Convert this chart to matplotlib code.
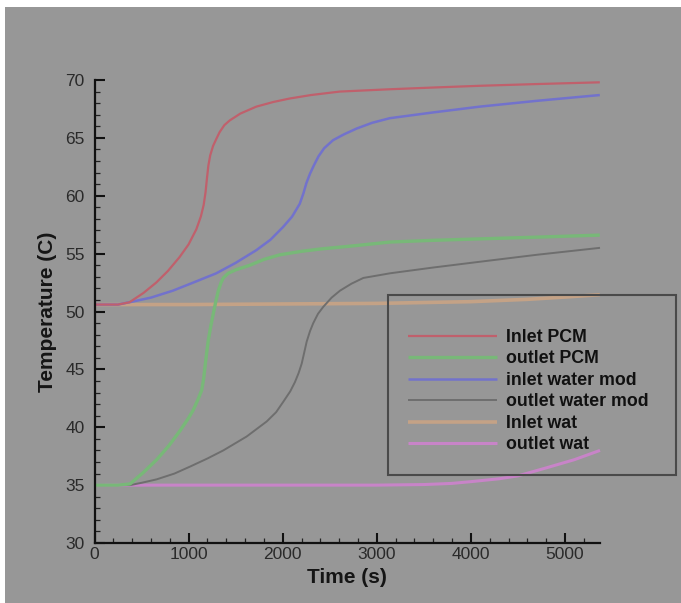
import matplotlib
matplotlib.use("Agg")
import matplotlib.pyplot as plt
from matplotlib.patches import Rectangle
from matplotlib.ticker import MultipleLocator

plt.rcParams['font.family'] = ['Liberation Sans', 'DejaVu Sans']

# ---- data ----
series_names = ["Inlet PCM", "outlet PCM", "inlet water mod",
                "outlet water mod", "Inlet wat", "outlet wat"]

t_inlet_pcm = [0, 250, 372, 520, 656, 780, 904, 1000, 1082, 1130, 1160, 1180, 1195, 1210, 1230,
               1260, 1294, 1330, 1380, 1436, 1550, 1720, 1900, 2074, 2300, 2606, 3138, 3600,
               4096, 4700, 5370]
T_inlet_pcm = [50.6, 50.6, 50.8, 51.6, 52.5, 53.5, 54.7, 55.8, 57.1, 58.2, 59.2, 60.3, 61.5, 62.6, 63.5,
               64.3, 64.9, 65.5, 66.1, 66.5, 67.1, 67.7, 68.1, 68.4, 68.7, 69.0, 69.2, 69.35,
               69.5, 69.65, 69.8]

t_outlet_pcm = [0, 250, 377, 520, 661, 790, 909, 1000, 1050, 1100, 1139, 1160, 1174, 1190, 1209,
                1235, 1262, 1290, 1316, 1345, 1369, 1420, 1500, 1652, 1800, 1971, 2200, 2400,
                2786, 3138, 3600, 4200, 4800, 5370]
T_outlet_pcm = [35.0, 35.0, 35.1, 36.1, 37.2, 38.4, 39.7, 40.8, 41.5, 42.4, 43.2, 44.2, 45.2, 46.3, 47.5,
                48.7, 49.8, 50.9, 51.8, 52.5, 52.9, 53.3, 53.6, 54.0, 54.5, 54.9, 55.2, 55.4,
                55.7, 56.0, 56.15, 56.3, 56.45, 56.6]

t_inlet_water_mod = [0, 250, 372, 600, 833, 1050, 1294, 1500, 1720, 1870, 2004, 2100, 2181, 2220,
                     2252, 2290, 2330, 2380, 2440, 2535, 2650, 2784, 2950, 3138, 3600, 4096,
                     4700, 5370]
T_inlet_water_mod = [50.6, 50.6, 50.8, 51.2, 51.8, 52.5, 53.3, 54.2, 55.3, 56.2, 57.3, 58.2, 59.3, 60.2,
                     61.1, 61.9, 62.6, 63.4, 64.1, 64.8, 65.3, 65.8, 66.3, 66.7, 67.2, 67.7,
                     68.2, 68.7]

t_outlet_water_mod = [0, 250, 377, 500, 661, 850, 1015, 1200, 1369, 1617, 1830, 1930, 2006, 2080,
                      2130, 2170, 2202, 2230, 2255, 2290, 2325, 2375, 2431, 2520, 2609, 2730,
                      2857, 3000, 3140, 3600, 4097, 4700, 5372]
T_outlet_water_mod = [35.0, 35.0, 35.0, 35.2, 35.5, 36.0, 36.6, 37.3, 38.0, 39.2, 40.5, 41.3, 42.2, 43.1,
                      43.9, 44.7, 45.5, 46.5, 47.4, 48.3, 49.0, 49.8, 50.4, 51.2, 51.8, 52.4,
                      52.9, 53.1, 53.3, 53.8, 54.3, 54.9, 55.5]

t_inlet_wat = [0, 1000, 2000, 3000, 4000, 4600, 5000, 5370]
T_inlet_wat = [50.6, 50.6, 50.65, 50.7, 50.85, 51.05, 51.25, 51.45]

t_outlet_wat = [0, 1000, 2000, 3000, 3500, 3800, 4000, 4300, 4500, 4805, 5100, 5372]
T_outlet_wat = [35.0, 35.0, 35.0, 35.0, 35.05, 35.15, 35.3, 35.55, 35.8, 36.5, 37.2, 38.0]

x_ticks = [0, 1000, 2000, 3000, 4000, 5000]
y_ticks = [30, 35, 40, 45, 50, 55, 60, 65, 70]

# ---- figure ----
W, H = 681, 603
fig = plt.figure(figsize=(W / 100, H / 100), dpi=100, facecolor='white')

# gray panel background
fig.patches.append(Rectangle((5 / W, 0), (W - 5) / W, (H - 7) / H, transform=fig.transFigure,
                             facecolor='#979797', edgecolor='none', zorder=-10))

ax_left, ax_right = 94.5, 600.0
ax_top, ax_bottom = 80.0, 543.0
ax = fig.add_axes([ax_left / W, 1 - ax_bottom / H, (ax_right - ax_left) / W, (ax_bottom - ax_top) / H])
ax.set_facecolor('none')

styles = [
    dict(color='#c0606c', lw=1.6),
    dict(color='#78b878', lw=2.4),
    dict(color='#7272cc', lw=1.8),
    dict(color='#6e6e6e', lw=1.4),
    dict(color='#c4a286', lw=2.6),
    dict(color='#c884c8', lw=2.2),
]
data = [(t_inlet_pcm, T_inlet_pcm), (t_outlet_pcm, T_outlet_pcm),
        (t_inlet_water_mod, T_inlet_water_mod), (t_outlet_water_mod, T_outlet_water_mod),
        (t_inlet_wat, T_inlet_wat), (t_outlet_wat, T_outlet_wat)]
order = [4, 5, 3, 1, 2, 0]
lines = {}
for i in order:
    t, T = data[i]
    ln, = ax.plot(t, T, label=series_names[i], solid_capstyle='butt', solid_joinstyle='round',
                  clip_on=False, **styles[i])
    lines[i] = ln

ax.set_xlim(0, 5372)
ax.set_ylim(30, 70)
ax.set_xticks(x_ticks)
ax.set_yticks(y_ticks)
ax.xaxis.set_minor_locator(MultipleLocator(200))
ax.yaxis.set_minor_locator(MultipleLocator(1))

for s in ['top', 'right']:
    ax.spines[s].set_visible(False)
for s in ['left', 'bottom']:
    ax.spines[s].set_linewidth(1.6)
    ax.spines[s].set_color('#111111')

ax.tick_params(which='major', direction='in', length=7.5, width=1.5, color='#111111',
               labelsize=12.5, labelcolor='#2a2a2a')
ax.tick_params(which='minor', direction='in', length=3.5, width=0.9, color='#222222')
ax.tick_params(axis='x', which='major', pad=3)
ax.tick_params(axis='y', which='major', pad=7)

ax.set_xlabel('Time (s)', fontsize=15, fontweight='bold', color='#151515', labelpad=4)
ax.set_ylabel('Temperature (C)', fontsize=15, fontweight='bold', color='#151515', labelpad=6)

# legend
handles = [lines[i] for i in range(6)]
leg = fig.legend(handles, series_names, loc='upper left',
                 bbox_to_anchor=(408 / W, 1 - 329 / H), bbox_transform=fig.transFigure,
                 frameon=False, borderpad=0, borderaxespad=0,
                 handlelength=5.0, handletextpad=0.5, labelspacing=0.25,
                 prop=dict(family=['Liberation Sans', 'DejaVu Sans'], weight='bold', size=12.8))
for txt in leg.get_texts():
    txt.set_color('#111111')

# legend frame (transparent face, dark border)
fig.patches.append(Rectangle((388 / W, 1 - 475 / H), (676 - 388) / W, (475 - 295) / H,
                             transform=fig.transFigure, facecolor='none',
                             edgecolor='#4a4a4a', lw=1.5, zorder=5))

fig.savefig('out.png', dpi=100, facecolor=fig.get_facecolor())
